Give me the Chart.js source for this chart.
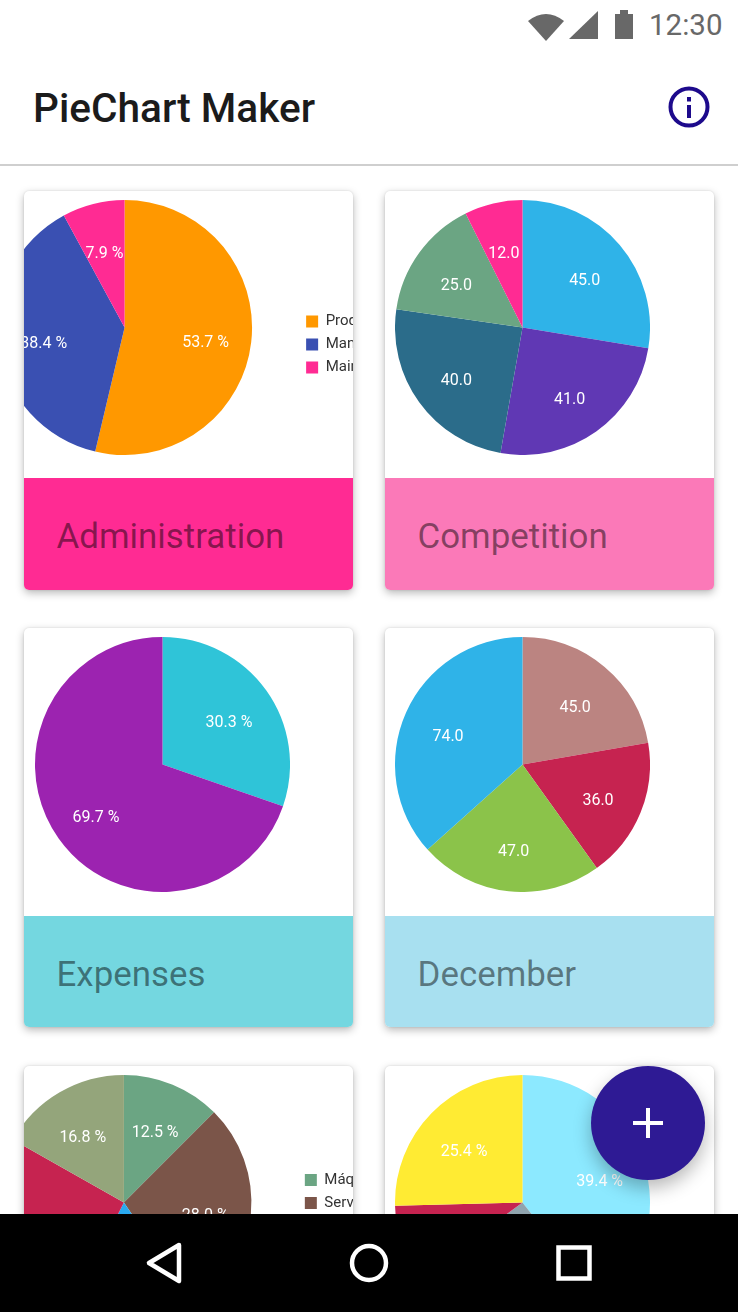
<!DOCTYPE html>
<html>
<head>
<meta charset="utf-8">
<title>PieChart Maker</title>
<script src="https://cdn.jsdelivr.net/npm/chart.js@4"></script>
<style>
html, body { margin: 0; padding: 0; background: #fff; }
body { position: relative; width: 738px; height: 1312px; overflow: hidden; font-family: Roboto, sans-serif; }
.card { position: absolute; width: 329px; height: 399px; background: #fff; border-radius: 5px; overflow: hidden;
        box-shadow: 0 3px 8px rgba(0,0,0,.28), 0 0 2px rgba(0,0,0,.12); }
.card canvas { position: absolute; }
.foot { position: absolute; left: 0; right: 0; top: 287px; height: 112px; }
.foot span { position: absolute; left: 32.5px; top: 38px; font-size: 34.9px; line-height: 42px; color: rgba(0,0,0,.48); }
#title { position: absolute; left: 33px; top: 83px; font-size: 40.6px; line-height: 50px; font-weight: 500; color: #1b1b1b; }
#line { position: absolute; left: 0; right: 0; top: 164px; height: 1.5px; background: #cfcfcf; }
#time { position: absolute; left: 649px; top: 7px; font-size: 29.5px; line-height: 36px; color: #686868; }
#nav { position: absolute; left: 0; top: 1214px; width: 738px; height: 98px; background: #000; z-index: 5; }
#fab { position: absolute; left: 591px; top: 1066px; width: 114px; height: 114px; border-radius: 50%; background: #2e1a94;
       box-shadow: 0 8px 18px rgba(0,0,0,.28); z-index: 4; }
svg { position: absolute; }
</style>
</head>
<body>
<svg style="left:525px;top:8px" width="140" height="34">
  <path d="M3 13 Q21 -1 39 13 L21 33 Z" fill="#686868"/>
  <path d="M44 31 L73 3 L73 31 Z" fill="#686868"/>
  <path d="M90 6 H95 V2 H103 V6 H108 V31 H90 Z" fill="#686868"/>
</svg>
<div id="time">12:30</div>
<div id="title">PieChart Maker</div>
<svg style="left:667px;top:85px" width="44" height="44">
  <circle cx="22" cy="22" r="18.5" fill="none" stroke="#1d0a8c" stroke-width="4"/>
  <rect x="20" y="20" width="4" height="13" fill="#1d0a8c"/>
  <rect x="20" y="12" width="4" height="4.5" fill="#1d0a8c"/>
</svg>
<div id="line"></div>

<div class="card" style="left:24px;top:191px">
  <canvas id="c1"></canvas>
  <div class="foot" style="background:#ff2b93"><span>Administration</span></div>
</div>
<div class="card" style="left:385px;top:191px">
  <canvas id="c2"></canvas>
  <div class="foot" style="background:#fb79b8"><span>Competition</span></div>
</div>
<div class="card" style="left:24px;top:628px">
  <canvas id="c3"></canvas>
  <div class="foot" style="background:#74d7e0;top:288px"><span>Expenses</span></div>
</div>
<div class="card" style="left:385px;top:628px">
  <canvas id="c4"></canvas>
  <div class="foot" style="background:#a8e0f0;top:288px"><span>December</span></div>
</div>
<div class="card" style="left:24px;top:1066px">
  <canvas id="c5"></canvas>
  <div class="foot" style="background:#fff"></div>
</div>
<div class="card" style="left:385px;top:1066px">
  <canvas id="c6"></canvas>
  <div class="foot" style="background:#fff"></div>
</div>

<div id="fab">
  <svg style="left:41px;top:41px" width="32" height="32"><path d="M14 1 h4 v13 h13 v4 h-13 v13 h-4 v-13 h-13 v-4 h13 z" fill="#fff"/></svg>
</div>
<div id="nav">
  <svg style="left:0;top:0" width="738" height="98" fill="none" stroke="#fff" stroke-width="4.5">
    <path d="M179 31 L149 49 L179 67 Z" stroke-linejoin="round"/>
    <circle cx="369" cy="49" r="17"/>
    <rect x="558.5" y="33.5" width="31" height="31"/>
  </svg>
</div>

<script>
const adminCats = ["Production", "Management", "Maintenance"];
const adminVals = [53.7, 38.4, 7.9];
const adminColors = ["#ff9800", "#3a50b2", "#ff2b93"];

const compCats = ["A", "B", "C", "D", "E"];
const compVals = [45, 41, 40, 25, 12];
const compColors = ["#2fb3e8", "#6038b4", "#2b6c8a", "#6ba583", "#ff2b93"];

const expCats = ["Income", "Costs"];
const expVals = [30.3, 69.7];
const expColors = ["#2fc4d8", "#9c23b0"];

const decCats = ["A", "B", "C", "D"];
const decVals = [45, 36, 47, 74];
const decColors = ["#bb8481", "#c62350", "#8bc34a", "#2fb3e8"];

const machCats = ["Máquinas", "Servicios", "Materiales", "Transporte", "Otros"];
const machVals = [12.5, 28.0, 17.0, 25.7, 16.8];
const machColors = ["#6ba583", "#7b5549", "#29a9f0", "#c62350", "#94a57b"];

const lastCats = ["A", "B", "C", "D"];
const lastVals = [39.4, 25.5, 9.7, 25.4];
const lastColors = ["#8ce9ff", "#90a4ae", "#c62350", "#ffeb33"];

// MPAndroidChart puts its labels further out than the arc centre
const sliceLabels = {
    id: 'sliceLabels',
    afterDatasetsDraw(chart, args, opts) {
        const ctx = chart.ctx;
        const vals = chart.data.datasets[0].data;
        ctx.save();
        ctx.font = '16px Roboto';
        ctx.fillStyle = '#fff';
        ctx.textAlign = 'center';
        ctx.textBaseline = 'middle';
        chart.getDatasetMeta(0).data.forEach(function(arc, i) {
            let mid = (arc.startAngle + arc.endAngle) / 2;
            let x = arc.x + Math.cos(mid) * arc.outerRadius * 0.64;
            let y = arc.y + Math.sin(mid) * arc.outerRadius * 0.64;
            ctx.fillText(vals[i].toFixed(1) + opts.suffix, x, y + 6);
        });
        ctx.restore();
    }
};

function makePie(id, cats, vals, colors, suffix, box, legendShift) {
    let canvas = document.getElementById(id);
    canvas.width = box.width;
    canvas.height = 255;
    canvas.style.left = box.left + 'px';
    canvas.style.top = box.top + 'px';
    new Chart(canvas, {
        type: 'pie',
        data: {
            labels: cats,
            datasets: [{ data: vals, backgroundColor: colors, borderWidth: 0 }]
        },
        options: {
            responsive: false,
            animation: false,
            devicePixelRatio: 1,
            layout: { padding: 0 },
            plugins: {
                tooltip: { enabled: false },
                sliceLabels: { suffix: suffix },
                legend: {
                    display: legendShift !== undefined,
                    position: 'right',
                    // blank title only pushes the entries down, pie stays put
                    title: { display: true, text: ' ', font: { size: 1 }, padding: { top: 0, bottom: legendShift || 0 } },
                    labels: {
                        boxWidth: 12,
                        boxHeight: 12,
                        padding: 8,
                        color: '#333',
                        font: { family: 'Roboto', size: 15 }
                    }
                }
            }
        },
        plugins: [sliceLabels]
    });
}

makePie('c1', adminCats, adminVals, adminColors, ' %', { left: -73, top: 9, width: 473 }, 33);
makePie('c2', compCats, compVals, compColors, '', { left: 10, top: 9, width: 255 });
makePie('c3', expCats, expVals, expColors, ' %', { left: 11, top: 9, width: 255 });
makePie('c4', decCats, decVals, decColors, '', { left: 10, top: 9, width: 255 });
makePie('c5', machCats, machVals, machColors, ' %', { left: -73, top: 9, width: 456 }, 46);
makePie('c6', lastCats, lastVals, lastColors, ' %', { left: 10, top: 9, width: 255 });
</script>
</body>
</html>
